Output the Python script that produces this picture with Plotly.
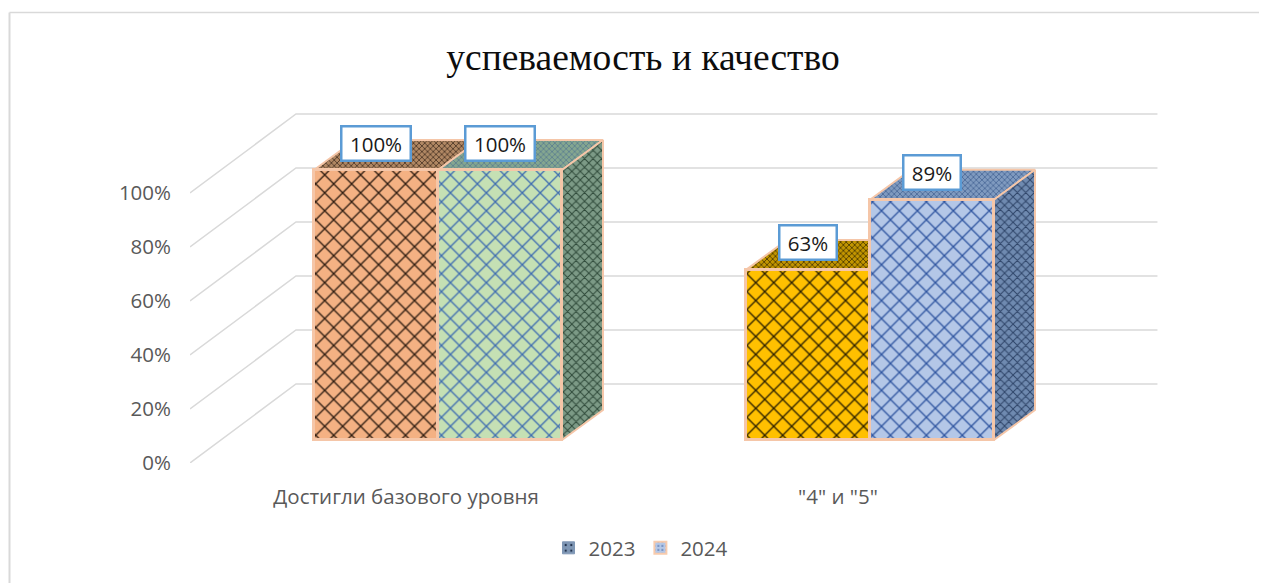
import plotly.graph_objects as go

# ---- data ----
categories = ['Достигли базового уровня', '"4" и "5"']
series_names = ['2023', '2024']
values_2023 = [100, 63]
values_2024 = [100, 89]
y_ticks = [0, 20, 40, 60, 80, 100]
y_tick_labels = ['0%', '20%', '40%', '60%', '80%', '100%']

front_colors_2023 = ['#F4B183', '#FFC000']
front_colors_2024 = ['#C5E0B4', '#B4C7E7']
pattern_colors_2023 = ['#2E1C10', '#2A1F00']
pattern_colors_2024 = ['#3F6DB0', '#2F55A0']
top_colors_2023 = ['#B08763', '#C29500']
top_colors_2024 = ['#84A690', '#7F9ABF']
side_colors_2024 = ['#7C9A86', '#6F8AB0']
top_pattern_2023 = ['#2E1F14', '#2A2000']
top_pattern_2024 = ['#4F7490', '#3C5A8C']
side_pattern_2024 = ['#2F4A3A', '#2E4468']

# ---- oblique projection, in axis units ----
PAGE = 8                          # browser body margin
PX_X, PX_Y = 432.0, 2.7           # pixels per category / per percent
MARGIN_B = 15
W, H = 1267 - PAGE, 583 - PAGE
PLOT_H = H - MARGIN_B
AX_L, AX_B = 190.0 - PAGE, 463.0 - PAGE   # pixel position of the axis origin
X_MAX, Y_MAX = 2.24, 130.0
WALL_DX, WALL_DY = 106 / PX_X, 79 / PX_Y
LIFT = 23 / PX_Y                  # bar floor above the axis plane
BAR_W = 124 / PX_X
GROUP_SHIFT = 0.074
DEPTH_DX, DEPTH_DY = 41 / PX_X, 30 / PX_Y
EDGE = '#F5C6A8'
GRID = '#D9D9D9'
FONT = 'Open Sans'

centers = [i + 0.5 + GROUP_SHIFT for i in range(len(categories))]
x_2023 = [c - BAR_W / 2 for c in centers]
x_2024 = [c + BAR_W / 2 for c in centers]

fig = go.Figure()

# walls: gridlines along the left wall and the back wall
for t in y_ticks:
    fig.add_trace(go.Scatter(
        x=[0, WALL_DX, X_MAX], y=[t, t + WALL_DY, t + WALL_DY],
        mode='lines', line=dict(color=GRID, width=1.5),
        showlegend=False, hoverinfo='skip', zorder=-1))


def face(xs, ys, color, fg, size, solidity, z):
    fig.add_trace(go.Scatter(
        x=xs + xs[:1], y=ys + ys[:1], mode='lines', fill='toself',
        fillcolor=color,
        fillpattern=dict(shape='x', size=size, solidity=solidity,
                         bgcolor=color, fgcolor=fg, fgopacity=1),
        line=dict(color=EDGE, width=2),
        showlegend=False, hoverinfo='skip', zorder=z))


def top_face(xc, v, color, fg, z):
    l, r, t = xc - BAR_W / 2, xc + BAR_W / 2, LIFT + v
    face([l, r, r + DEPTH_DX, l + DEPTH_DX],
         [t, t, t + DEPTH_DY, t + DEPTH_DY], color, fg, 4, 0.3, z)


for xc, v, col, fg in zip(x_2023, values_2023, top_colors_2023, top_pattern_2023):
    top_face(xc, v, col, fg, 0)
for xc, v, col, fg in zip(x_2024, values_2024, top_colors_2024, top_pattern_2024):
    top_face(xc, v, col, fg, 1)
for xc, v, col, fg in zip(x_2024, values_2024, side_colors_2024, side_pattern_2024):
    r = xc + BAR_W / 2
    face([r, r, r + DEPTH_DX, r + DEPTH_DX],
         [LIFT, LIFT + v, LIFT + v + DEPTH_DY, LIFT + DEPTH_DY], col, fg, 6, 0.3, 1)

# front faces
for xs, vals, cols, fgs, name in [
    (x_2023, values_2023, front_colors_2023, pattern_colors_2023, series_names[0]),
    (x_2024, values_2024, front_colors_2024, pattern_colors_2024, series_names[1]),
]:
    for xb, v, col, fg in zip(xs, vals, cols, fgs):
        fig.add_trace(go.Bar(
            x=[xb], y=[v], base=LIFT, width=BAR_W, name=name, showlegend=False,
            marker=dict(color=col, line=dict(color=EDGE, width=3),
                        pattern=dict(shape='x', size=12.7, solidity=0.2,
                                     bgcolor=col, fgcolor=fg, fgopacity=1)),
            zorder=2))

# legend keys
fig.add_trace(go.Bar(
    x=[None], y=[None], name=series_names[0],
    marker=dict(color='#7F97B5', line=dict(width=1, color='#7F97B5'),
                pattern=dict(shape='.', size=7, solidity=0.12, bgcolor='#7F97B5',
                             fgcolor='#1F2F4A', fgopacity=1))))
fig.add_trace(go.Bar(
    x=[None], y=[None], name=series_names[1],
    marker=dict(color='#B4C7E7', line=dict(width=2, color='#F8CBAD'),
                pattern=dict(shape='.', size=5, solidity=0.15, bgcolor='#B4C7E7',
                             fgcolor='#3F5F9E', fgopacity=1))))

# data labels
annotations = []
for xs, vals in [(x_2023, values_2023), (x_2024, values_2024)]:
    for xc, v in zip(xs, vals):
        annotations.append(dict(
            x=xc, y=LIFT + v, xref='x', yref='y', text=f'{v}%', showarrow=False,
            yshift=27, width=63 if v >= 100 else 51, height=28, align='center',
            font=dict(family=FONT, size=20.5, color='#1a1a1a'),
            bgcolor='white', bordercolor='#5B9BD5', borderwidth=2.5, borderpad=2))

fig.update_layout(
    width=W, height=H, autosize=False,
    margin=dict(l=0, r=0, t=0, b=MARGIN_B),
    paper_bgcolor='white', plot_bgcolor='white',
    barmode='overlay', bargap=0,
    title=dict(text='успеваемость и качество', x=(643 - PAGE) / W, xanchor='center',
               y=1 - (57 - PAGE) / H, yanchor='middle',
               font=dict(family='Liberation Serif', size=37.5, color='#0d0d0d')),
    xaxis=dict(range=[0, X_MAX], domain=[AX_L / W, (AX_L + X_MAX * PX_X) / W],
               tickmode='array', tickvals=[i + 0.5 for i in range(len(categories))],
               ticktext=categories, showgrid=False, zeroline=False, showline=False,
               ticks='', ticklabelstandoff=19,
               tickfont=dict(family=FONT, size=20.5, color='#595959')),
    yaxis=dict(range=[0, Y_MAX],
               domain=[(PLOT_H - AX_B) / PLOT_H, (PLOT_H - AX_B + Y_MAX * PX_Y) / PLOT_H],
               tickmode='array', tickvals=y_ticks, ticktext=y_tick_labels,
               showgrid=False, zeroline=False, showline=False, ticks='',
               ticklabelstandoff=18,
               tickfont=dict(family=FONT, size=20.5, color='#595959')),
    legend=dict(orientation='h', x=(641 - PAGE) / W, xanchor='center', y=0,
                yanchor='bottom', font=dict(family=FONT, size=20.5, color='#595959'),
                itemwidth=30),
    annotations=annotations,
    shapes=[dict(type='line', xref='paper', yref='paper',
                 x0=1.5 / W, x1=1, y0=1 - 4.5 / PLOT_H, y1=1 - 4.5 / PLOT_H,
                 line=dict(color='#D9D9D9', width=1.5), layer='below'),
            dict(type='line', xref='paper', yref='paper',
                 x0=1.5 / W, x1=1.5 / W, y0=-MARGIN_B / PLOT_H, y1=1 - 4.5 / PLOT_H,
                 line=dict(color='#D9D9D9', width=2), layer='below')],
)

fig.write_html('out.html')
